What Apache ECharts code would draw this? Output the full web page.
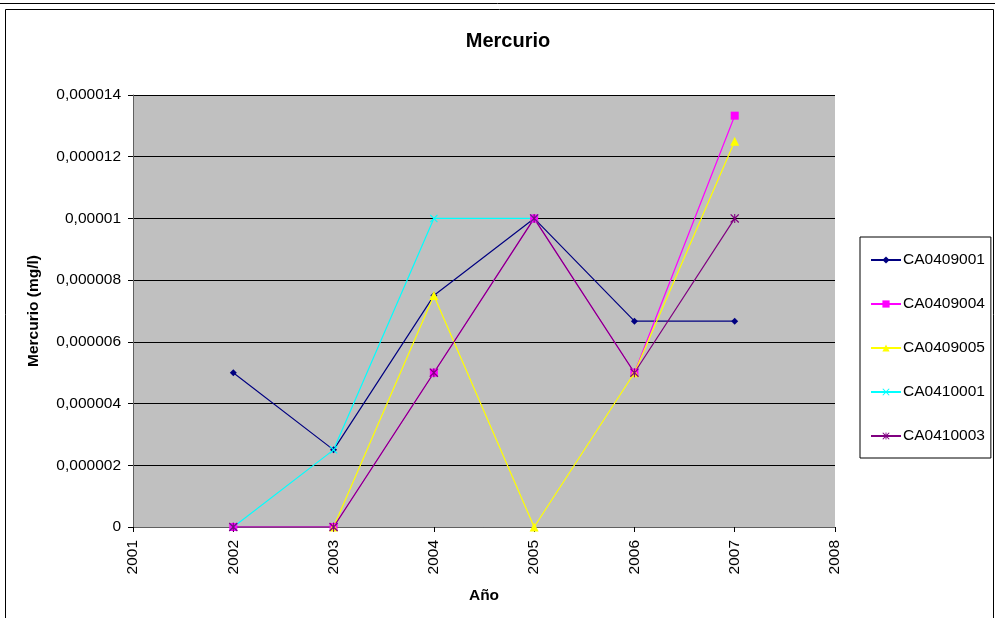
<!DOCTYPE html>
<html>
<head>
<meta charset="utf-8">
<script src="https://cdn.jsdelivr.net/npm/echarts@6/dist/echarts.min.js"></script>
<style>html,body{margin:0;padding:0;background:#fff;}#c{width:995px;height:618px;}</style>
</head>
<body>
<div id="c"></div>
<script>
var seriesNames = ['CA0409001', 'CA0409004', 'CA0409005', 'CA0410001', 'CA0410003'];
var years = [2002, 2003, 2004, 2005, 2006, 2007];
var ca0409001 = [0.000005, 0.0000025, 0.0000075, 0.00001, 0.00000667, 0.00000667];
var ca0409004 = [0, 0, 0.000005, 0.00001, 0.000005, 0.00001333];
var ca0409005 = [null, 0, 0.0000075, 0, 0.000005, 0.0000125];
var ca0410001 = [0, 0.0000025, 0.00001, 0.00001, null, null];
var ca0410003 = [0, 0, 0.000005, 0.00001, 0.000005, 0.00001];
var colors = ['#000080', '#FF00FF', '#FFFF00', '#00FFFF', '#800080'];

var xPath = 'path://M1,0L5,4L9,0L10,1L6,5L10,9L9,10L5,6L1,10L0,9L4,5L0,1Z';
var starPath = 'path://M1,0L5,4L9,0L10,1L6,5L10,9L9,10L5,6L1,10L0,9L4,5L0,1Z M4.4,0L5.6,0L5.6,10L4.4,10Z';
var symbols = ['diamond', 'rect', 'triangle', xPath, starPath];
var sizes = [7, 8, 9, 8, 9];
var allData = [ca0409001, ca0409004, ca0409005, ca0410001, ca0410003];

function pairs(arr) {
  var out = [];
  for (var i = 0; i < years.length; i++) {
    if (arr[i] !== null) out.push([years[i], arr[i]]);
  }
  return out;
}

var series = seriesNames.map(function (n, i) {
  return {
    name: n, type: 'line', data: pairs(allData[i]),
    symbol: symbols[i], symbolSize: sizes[i], showAllSymbol: true,
    lineStyle: { color: colors[i], width: 1.2 },
    itemStyle: { color: colors[i], borderWidth: 0 },
    emphasis: { disabled: true }, animation: false
  };
});

var chart = echarts.init(document.getElementById('c'));
chart.setOption({
  animation: false,
  title: {
    text: 'Mercurio', left: 503, top: 26, textAlign: 'center',
    textStyle: { fontFamily: 'Liberation Sans', fontSize: 20, fontWeight: 'bold', color: '#000' }
  },
  graphic: [
    { type: 'line', shape: { x1: 0, y1: 3.5, x2: 995, y2: 3.5 }, style: { stroke: '#000', lineWidth: 1 } },
    { type: 'rect', shape: { x: 5.5, y: 9.5, width: 988, height: 640 }, style: { fill: null, stroke: '#000', lineWidth: 1 } }
  ],
  legend: {
    orient: 'vertical', left: 860, top: 237, width: 133, height: 221,
    padding: [15, 6, 14, 10], itemGap: 28, itemWidth: 30, itemHeight: 9,
    borderColor: '#000', borderWidth: 1, backgroundColor: '#fff',
    textStyle: { fontFamily: 'Liberation Sans', fontSize: 15.5, color: '#000', padding: [0, 0, 0, -3] },
    data: seriesNames
  },
  grid: { left: 133, top: 95, width: 702, height: 432, show: true, backgroundColor: '#C0C0C0', borderWidth: 0 },
  xAxis: {
    type: 'value', min: 2001, max: 2008, interval: 1,
    name: 'Año', nameLocation: 'middle', nameGap: 61,
    nameTextStyle: { fontFamily: 'Liberation Sans', fontSize: 15.5, fontWeight: 'bold', color: '#000' },
    axisLine: { show: true, lineStyle: { color: '#606060' } },
    axisTick: { show: true, length: 5, lineStyle: { color: '#000' } },
    splitLine: { show: false },
    axisLabel: { rotate: 90, fontFamily: 'Liberation Sans', fontSize: 15.5, color: '#000', margin: 13,
      formatter: function (v) { return String(Math.round(v)); } }
  },
  yAxis: {
    type: 'value', min: 0, max: 0.000014, interval: 0.000002,
    name: 'Mercurio (mg/l)', nameLocation: 'middle', nameGap: 91, nameRotate: 90,
    nameTextStyle: { fontFamily: 'Liberation Sans', fontSize: 15.5, fontWeight: 'bold', color: '#000' },
    axisLine: { show: true, lineStyle: { color: '#606060' } },
    axisTick: { show: true, length: 5, lineStyle: { color: '#000' } },
    splitLine: { show: true, lineStyle: { color: '#000', width: 1 } },
    axisLabel: { fontFamily: 'Liberation Sans', fontSize: 15.5, color: '#000', margin: 12,
      formatter: function (v) { return String(parseFloat(v.toPrecision(6))).replace('.', ','); } }
  },
  series: series
});
</script>
</body>
</html>
